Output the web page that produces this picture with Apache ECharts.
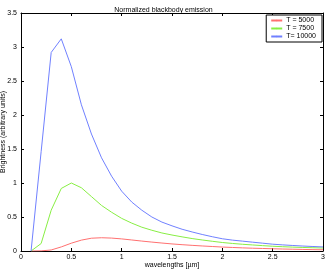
<!DOCTYPE html>
<html><head><meta charset="utf-8">
<script src="https://cdn.jsdelivr.net/npm/echarts@6/dist/echarts.min.js"></script>
<style>html,body{margin:0;padding:0;background:#fff}#c{width:327px;height:270px}</style>
</head><body><div id="c"></div>
<script>
var wavelengths = [0.1,0.2,0.3,0.4,0.5,0.6,0.7,0.8,0.9,1.0,1.1,1.2,1.3,1.4,1.5,1.6,1.7,1.8,1.9,2.0,2.1,2.2,2.3,2.4,2.5,2.6,2.7,2.8,2.9,3.0];
var seriesNames = ['T = 5000','T = 7500','T= 10000'];
var red5000 = [0,0.002,0.015,0.06,0.115,0.16,0.188,0.195,0.19,0.178,0.162,0.146,0.131,0.117,0.104,0.093,0.083,0.074,0.066,0.058,0.052,0.046,0.041,0.037,0.033,0.029,0.026,0.023,0.02,0.018];
var green7500 = [0,0.11,0.6,0.92,1.0,0.93,0.8,0.67,0.57,0.48,0.41,0.35,0.305,0.265,0.235,0.208,0.183,0.162,0.143,0.125,0.111,0.099,0.089,0.079,0.07,0.063,0.057,0.052,0.048,0.044];
var blue10000 = [0,1.46,2.92,3.12,2.71,2.15,1.72,1.37,1.1,0.88,0.72,0.6,0.5,0.425,0.37,0.32,0.28,0.243,0.21,0.18,0.16,0.145,0.13,0.115,0.1,0.09,0.081,0.073,0.066,0.06];
var xTicks = [0,0.5,1,1.5,2,2.5,3];
var yTicks = [0,0.5,1,1.5,2,2.5,3,3.5];

function pairs(ys){ return wavelengths.map(function(x,i){return [x, ys[i]];}); }
var font = 'Liberation Sans';
var chart = echarts.init(document.getElementById('c'));
function axisCommon(){ return {
  axisLine:{show:true,onZero:false,lineStyle:{color:'#000',width:1}},
  axisTick:{show:true,inside:true,length:3,lineStyle:{color:'#000'}},
  splitLine:{show:false},
  nameMoveOverlap:false
};}
function fmt(v){ return String(v); }
chart.setOption({
  animation:false,
  title:{text:'Normalized blackbody emission',left:'center',top:2,
    textStyle:{fontFamily:font,fontSize:7,fontWeight:'normal',color:'#000'}},
  grid:{left:21,right:4,top:13,bottom:19,containLabel:false,outerBoundsMode:'none'},
  legend:{
    data:seriesNames, orient:'vertical', right:5, top:15,
    itemWidth:11, itemHeight:2, itemGap:1,
    padding:[2,6,2,4],
    borderColor:'#000', borderWidth:1, backgroundColor:'#fff',
    textStyle:{fontFamily:font,fontSize:7,color:'#000',padding:[0,0,0,-1]}
  },
  xAxis:[
    Object.assign({type:'value',min:xTicks[0],max:xTicks[xTicks.length-1],interval:0.5,position:'bottom',
      name:'wavelengths [µm]',nameLocation:'middle',nameGap:11,
      nameTextStyle:{fontFamily:font,fontSize:7,color:'#000'},
      axisLabel:{fontFamily:font,fontSize:7,color:'#000',margin:3,formatter:fmt}},axisCommon()),
    Object.assign({type:'value',min:xTicks[0],max:xTicks[xTicks.length-1],interval:0.5,position:'top',
      axisLabel:{show:false}},axisCommon())
  ],
  yAxis:[
    Object.assign({type:'value',min:yTicks[0],max:yTicks[yTicks.length-1],interval:0.5,position:'left',
      name:'Brightness (arbitrary units)',nameLocation:'middle',nameGap:14,nameRotate:90,
      nameTextStyle:{fontFamily:font,fontSize:7,color:'#000'},
      axisLabel:{fontFamily:font,fontSize:7,color:'#000',margin:4,formatter:fmt}},axisCommon()),
    Object.assign({type:'value',min:yTicks[0],max:yTicks[yTicks.length-1],interval:0.5,position:'right',
      axisLabel:{show:false}},axisCommon())
  ],
  series:[
    {name:seriesNames[0],type:'line',data:pairs(red5000),symbol:'none',lineStyle:{color:'#ff7070',width:1},itemStyle:{color:'#ff7070'}},
    {name:seriesNames[1],type:'line',data:pairs(green7500),symbol:'none',lineStyle:{color:'#88ee44',width:1},itemStyle:{color:'#88ee44'}},
    {name:seriesNames[2],type:'line',data:pairs(blue10000),symbol:'none',lineStyle:{color:'#7080ff',width:1},itemStyle:{color:'#7080ff'}}
  ]
});
</script></body></html>
